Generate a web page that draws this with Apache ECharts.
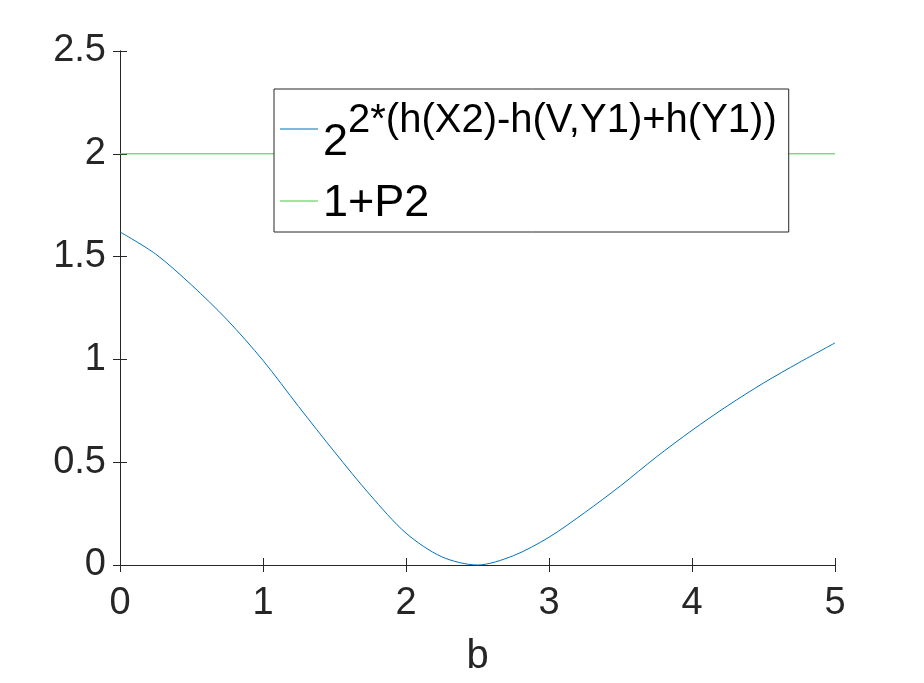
<!DOCTYPE html>
<html>
<head>
<meta charset="utf-8">
<script src="https://cdn.jsdelivr.net/npm/echarts@6/dist/echarts.min.js"></script>
<style>
  html, body { margin: 0; padding: 0; background: #fff; }
  #chart { width: 924px; height: 683px; }
</style>
</head>
<body>
<div id="chart"></div>
<script>
// 曲线数据
const bValues = [0, 0.25, 0.5, 0.75, 1, 1.25, 1.5, 1.75, 2, 2.25, 2.5, 2.75, 3, 3.25, 3.5, 3.75, 4, 4.25, 4.5, 4.75, 5]
const rateValues = [1.62, 1.512, 1.362, 1.192, 0.995, 0.77, 0.55, 0.34, 0.155, 0.04, 0.0, 0.045, 0.135, 0.255, 0.385, 0.525, 0.655, 0.775, 0.885, 0.985, 1.08]
const bLimit = [0, 5]
const limitValues = [2, 2]
const seriesNames = ['2^{2*(h(X2)-h(V,Y1)+h(Y1))}', '1+P2']
const xTicks = [0, 5, 1]
const yTicks = [0, 2.5, 0.5]

const font = "'Liberation Sans', Arial, Helvetica, sans-serif"
const ink = '#262626'

const zip = (xs, ys) => xs.map((x, i) => [x, ys[i]])

const boxAxis = (extra) => Object.assign({
  type: 'value',
  splitLine: { show: false },
  axisLine: { show: true, lineStyle: { color: ink, width: 1 } },
  axisTick: { show: true, inside: true, length: 7, lineStyle: { color: ink, width: 1 } },
  axisLabel: { show: false },
}, extra)

const chart = echarts.init(document.getElementById('chart'))
const option = {
  animation: false,
  backgroundColor: '#fff',
  textStyle: { fontFamily: font },
  grid: { left: 120, top: 51, width: 715, height: 514 },
  legend: {
    orient: 'vertical',
    left: 274,
    top: 89,
    padding: [12, 12, 6, 6],
    icon: 'rect',
    itemWidth: 38,
    itemHeight: 1,
    itemGap: 8,
    borderColor: ink,
    borderWidth: 1,
    backgroundColor: '#fff',
    data: seriesNames,
    formatter: function (name) {
      if (name === seriesNames[0]) {
        return '{base|2}{sup|2*(h(X2)-h(V,Y1)+h(Y1))}'
      }
      return '{plain|' + name + '}'
    },
    textStyle: {
      fontFamily: font,
      color: '#000',
      rich: {
        base: { fontFamily: font, fontSize: 45, lineHeight: 56, verticalAlign: 'top', padding: [19, 0, 0, 0], color: '#000' },
        sup: { fontFamily: font, fontSize: 40, lineHeight: 56, verticalAlign: 'top', color: '#000' },
        plain: { fontFamily: font, fontSize: 45, lineHeight: 56, verticalAlign: 'top', padding: [8, 0, 0, 0], color: '#000' },
      },
    },
  },
  xAxis: [
    boxAxis({
      min: xTicks[0], max: xTicks[1], interval: xTicks[2],
      position: 'bottom',
      name: 'b',
      nameLocation: 'middle',
      nameGap: 72,
      nameTextStyle: { fontFamily: font, fontSize: 40, color: ink },
      axisLabel: { show: true, margin: 20, fontSize: 38, color: ink, fontFamily: font },
    }),
    boxAxis({ min: xTicks[0], max: xTicks[1], interval: xTicks[2], position: 'top' }),
  ],
  yAxis: [
    boxAxis({
      min: yTicks[0], max: yTicks[1], interval: yTicks[2],
      position: 'left',
      axisLabel: { show: true, margin: 14, fontSize: 38, color: ink, fontFamily: font },
    }),
    boxAxis({ min: yTicks[0], max: yTicks[1], interval: yTicks[2], position: 'right' }),
  ],
  series: [
    {
      name: seriesNames[0],
      type: 'line',
      data: zip(bValues, rateValues),
      smooth: 0.3,
      symbol: 'none',
      lineStyle: { color: '#0072BD', width: 1 },
      itemStyle: { color: '#0072BD' },
      z: 3,
    },
    {
      name: seriesNames[1],
      type: 'line',
      data: zip(bLimit, limitValues),
      symbol: 'none',
      lineStyle: { color: '#44cc44', width: 1 },
      itemStyle: { color: '#44cc44' },
      z: 2,
    },
  ],
}
option && chart.setOption(option)
</script>
</body>
</html>
